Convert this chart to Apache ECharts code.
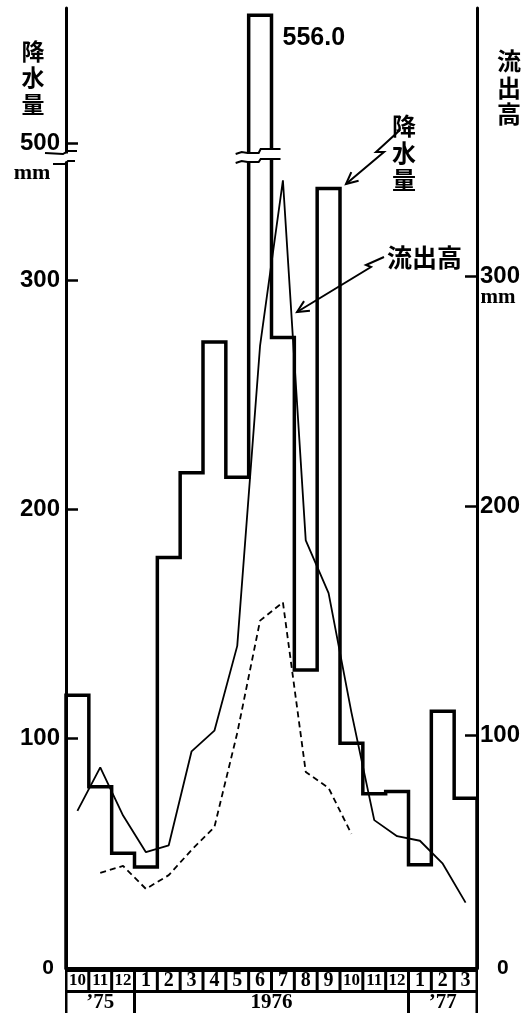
<!DOCTYPE html>
<html><head><meta charset="utf-8">
<script src="https://cdn.jsdelivr.net/npm/echarts@6/dist/echarts.min.js"></script>
<style>html,body{margin:0;padding:0;background:#fff}#c{width:531px;height:1014px}</style>
</head><body><div id="c"></div>
<script>
// ---- data ----
const months = ['10','11','12','1','2','3','4','5','6','7','8','9','10','11','12','1','2','3'];
const years = ['’75','1976','’77'];
const yearSpans = [3, 12, 3];
const precipitation = [119,79,50,44,179,216,273,214,556,275,130,340,98,76,77,45,112,74];
const runoff = [67,86,65,49,52,93,102,139,270,342,185,162,110,63,56,54,44,27];
const runoffDashed = [null,40,43,33,39,50,60,101,150,158,84,77,57,null,null,null,null,null];
const leftTicks = [100,200,300,500];
const rightTicks = [100,200,300];
const peakLabel = '556.0';

// axis break (left axis): values above BREAK_AT are shifted down by BREAK_SHIFT
const BREAK_AT = 353, BREAK_SHIFT = 140.5;
const toDisp = v => v > BREAK_AT ? v - BREAK_SHIFT : v;
const fromDisp = v => v > BREAK_AT ? v + BREAK_SHIFT : v;

const NUM = '"Liberation Sans Narrow","Liberation Sans",Arial,sans-serif';
const SERIF = '"Liberation Serif","DejaVu Serif",serif';
const CJK = '"Noto Sans CJK JP","Noto Sans CJK SC",sans-serif';

// step outline of precipitation (left edges on value x axis 0..18)
const stepData = [[0, 0]];
precipitation.forEach((v, i) => stepData.push([i, toDisp(v)]));
stepData.push([precipitation.length, toDisp(precipitation[precipitation.length - 1])]);
stepData.push([precipitation.length, 0]);

// year label centers
const yearCenters = [];
{ let acc = 0; yearSpans.forEach(s => { yearCenters.push(acc + s / 2); acc += s; }); }

const chart = echarts.init(document.getElementById('c'), null, {renderer: 'canvas', width: 531, height: 1014});
const gridW = 531 - 66 - 54;
const catW = gridW / months.length;

const boxBase = {backgroundColor: '#fff', height: 18, lineHeight: 18, align: 'center', fontWeight: 'bold', fontFamily: SERIF, color: '#000'};
const yearRich = {};
yearSpans.forEach((s, k) => {
  yearRich['y' + k] = {backgroundColor: '#fff', width: s * catW - 3, height: 20, lineHeight: 20, align: 'center',
    fontSize: 21, fontWeight: 'bold', fontFamily: SERIF, color: '#000'};
});

const option = {
  animation: false,
  backgroundColor: '#fff',
  grid: {left: 66, right: 54, top: 8, bottom: 46, containLabel: false, outerBoundsMode: 'none'},
  xAxis: [
    {
      type: 'category', data: months.map((_, i) => String(i)), boundaryGap: true, position: 'bottom',
      axisLine: {show: true, lineStyle: {color: '#000', width: 2}},
      axisTick: {show: false}, splitLine: {show: false},
      axisLabel: {
        interval: 0, margin: 4, hideOverlap: false,
        formatter: v => { const m = months[+v]; return '{' + (m.length > 1 ? 'w' : 'n') + '|' + m + '}'; },
        rich: {
          n: Object.assign({}, boxBase, {width: catW - 3, fontSize: 20}),
          w: Object.assign({}, boxBase, {width: catW - 3, fontSize: 17})
        }
      }
    },
    {
      type: 'value', min: 0, max: months.length, position: 'bottom',
      axisLine: {show: false}, axisTick: {show: false}, splitLine: {show: false},
      axisLabel: {
        customValues: yearCenters, margin: 25, hideOverlap: false,
        formatter: v => { const k = yearCenters.indexOf(v); return k < 0 ? '' : '{y' + k + '|' + years[k] + '}'; },
        rich: yearRich
      }
    }
  ],
  yAxis: [
    {
      type: 'value', min: 0, max: 418.7, position: 'left',
      axisLine: {show: true, lineStyle: {color: '#000', width: 3}},
      axisTick: {show: true, inside: true, length: 12, lineStyle: {color: '#000', width: 2.5}, customValues: leftTicks.map(toDisp)},
      splitLine: {show: false},
      axisLabel: {
        customValues: [0].concat(leftTicks).map(toDisp), margin: 6, color: '#000',
        fontFamily: NUM, fontWeight: 'bold', fontSize: 24,
        formatter: v => { const r = Math.round(fromDisp(v)); return r === 0 ? '{z|0}' : '{n|' + r + '}'; },
        rich: {
          n: {fontFamily: NUM, fontWeight: 'bold', fontSize: 24, color: '#000'},
          z: {fontFamily: NUM, fontWeight: 'bold', fontSize: 21, color: '#000', padding: [0, 6, 0, 0]}
        }
      }
    },
    {
      type: 'value', min: -1.5, max: 417.2, position: 'right',
      axisLine: {show: true, lineStyle: {color: '#000', width: 3}},
      axisTick: {show: true, inside: true, length: 12, lineStyle: {color: '#000', width: 2.5}, customValues: rightTicks},
      splitLine: {show: false},
      axisLabel: {
        customValues: [0].concat(rightTicks), margin: 3, color: '#000',
        fontFamily: NUM, fontWeight: 'bold', fontSize: 24,
        formatter: v => v === 0 ? '{z|0}' : '{n|' + v + '}',
        rich: {
          n: {fontFamily: NUM, fontWeight: 'bold', fontSize: 24, color: '#000'},
          z: {fontFamily: NUM, fontWeight: 'bold', fontSize: 21, color: '#000', padding: [8, 0, 0, 17]}
        }
      }
    }
  ],
  series: [
    {
      type: 'line', name: '降水量', xAxisIndex: 1, yAxisIndex: 0, data: stepData, step: 'end',
      symbol: 'none', showSymbol: false, silent: true, z: 3,
      lineStyle: {color: '#000', width: 3.5, join: 'miter', cap: 'square'}
    },
    {
      type: 'line', name: '流出高', xAxisIndex: 0, yAxisIndex: 1, data: runoff,
      symbol: 'none', showSymbol: false, silent: true, z: 2,
      lineStyle: {color: '#000', width: 1.8}
    },
    {
      type: 'line', name: '流出高2', xAxisIndex: 0, yAxisIndex: 1, data: runoffDashed, connectNulls: false,
      symbol: 'none', showSymbol: false, silent: true, z: 2,
      lineStyle: {color: '#000', width: 1.8, type: [6, 4]}
    }
  ]
};
chart.setOption(option);

// ---- decorations anchored to the axes ----
const X = v => chart.convertToPixel({xAxisIndex: 1}, v);
const YL = v => chart.convertToPixel({yAxisIndex: 0}, v);
const YR = v => chart.convertToPixel({yAxisIndex: 1}, v);

function arrowHead(tip, from, len, ang) {
  const dx = from[0] - tip[0], dy = from[1] - tip[1];
  const L = Math.hypot(dx, dy), ux = dx / L, uy = dy / L;
  const c = Math.cos(ang), s = Math.sin(ang);
  return [
    [tip[0] + len * (ux * c - uy * s), tip[1] + len * (ux * s + uy * c)],
    tip,
    [tip[0] + len * (ux * c + uy * s), tip[1] + len * (-ux * s + uy * c)]
  ];
}
const stroke = {stroke: '#000', lineWidth: 2, fill: null};

const ax = X(0), xr = X(months.length), y0 = YL(0);
const yb = YL(BREAK_AT + 0.5);
const peakIdx = precipitation.indexOf(Math.max(...precipitation));
const xl = X(peakIdx), xrPeak = X(peakIdx + 1);
const yPeak = YL(toDisp(precipitation[peakIdx]));

const arrow1 = [[400, 130], [376, 152], [384, 152], [346, 184]];
const arrow2 = [[384, 257], [366, 265], [371, 267], [297, 312]];

const g = [
  // bottom black band behind month / year labels
  {type: 'rect', z: -1, shape: {x: ax - 1, y: y0, width: xr - ax + 2, height: 1013 - y0}, style: {fill: '#000'}},
  // left axis break
  {type: 'rect', z: 50, shape: {x: ax - 3, y: yb - 4, width: 6, height: 8}, style: {fill: '#fff'}},
  {type: 'polyline', z: 51, shape: {points: [[ax - 21, yb - 4.5], [ax - 3, yb - 3.5], [ax + 2, yb - 6.5], [ax + 11, yb - 6.5]]}, style: stroke},
  {type: 'polyline', z: 51, shape: {points: [[ax - 13, yb + 6.5], [ax - 1, yb + 6.5], [ax + 2, yb + 3.5], [ax + 9, yb + 3.5]]}, style: stroke},
  // break on the tall bar
  {type: 'polygon', z: 50, shape: {points: [[xl - 4, yb - 4.5], [xl + 11, yb - 4.5], [xl + 11, yb - 8.5], [xrPeak + 4, yb - 8.5],
    [xrPeak + 4, yb + 1.5], [xl + 11, yb + 1.5], [xl + 11, yb + 4.5], [xl - 4, yb + 4.5]]}, style: {fill: '#fff'}},
  {type: 'polyline', z: 51, shape: {points: [[xl - 13, yb - 3.5], [xl - 7, yb - 5.5], [xl - 1, yb - 4.5], [xl + 10, yb - 4.5], [xl + 12, yb - 8.5], [xrPeak + 9, yb - 8.5]]}, style: stroke},
  {type: 'polyline', z: 51, shape: {points: [[xl - 13, yb + 5.5], [xl - 7, yb + 3.5], [xl - 1, yb + 4.5], [xl + 10, yb + 4.5], [xl + 12, yb + 1.5], [xrPeak + 9, yb + 1.5]]}, style: stroke},
  // peak value
  {type: 'text', z: 60, x: xrPeak + 11, y: yPeak + 10, style: {text: peakLabel, font: 'bold 25px ' + NUM, fill: '#000', textAlign: 'left', textVerticalAlign: 'top'}},
  // units
  {type: 'text', z: 60, x: 32, y: YL(toDisp(500)) + 30, style: {text: 'mm', font: 'bold 22px ' + SERIF, fill: '#000', textAlign: 'center', textVerticalAlign: 'middle'}},
  {type: 'text', z: 60, x: 498, y: YR(300) + 21, style: {text: 'mm', font: 'bold 21px ' + SERIF, fill: '#000', textAlign: 'center', textVerticalAlign: 'middle'}},
  // axis titles
  {type: 'text', z: 60, x: 33, y: 38, style: {text: '降\n水\n量', font: 'bold 23px ' + CJK, lineHeight: 26.5, fill: '#000', textAlign: 'center', textVerticalAlign: 'top'}},
  {type: 'text', z: 60, x: 509, y: 48, style: {text: '流\n出\n高', font: 'bold 24px ' + CJK, lineHeight: 26.5, fill: '#000', textAlign: 'center', textVerticalAlign: 'top'}},
  // in-plot annotations
  {type: 'text', z: 60, x: 404, y: 112, style: {text: '降\n水\n量', font: 'bold 24px ' + CJK, lineHeight: 27, fill: '#000', textAlign: 'center', textVerticalAlign: 'top'}},
  {type: 'text', z: 60, x: 387, y: 257, style: {text: '流出高', font: 'bold 25px ' + CJK, fill: '#000', textAlign: 'left', textVerticalAlign: 'middle'}},
  {type: 'polyline', z: 60, shape: {points: arrow1}, style: stroke},
  {type: 'polyline', z: 60, shape: {points: arrowHead(arrow1[3], arrow1[2], 13, 0.45)}, style: stroke},
  {type: 'polyline', z: 60, shape: {points: arrow2}, style: stroke},
  {type: 'polyline', z: 60, shape: {points: arrowHead(arrow2[3], arrow2[2], 13, 0.45)}, style: stroke}
];
chart.setOption({graphic: {elements: g}});
</script>
</body></html>
